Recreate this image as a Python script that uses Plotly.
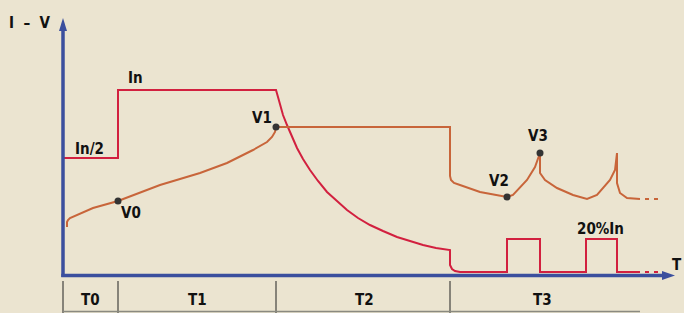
import plotly.graph_objects as go

# ---------------- data (time units along T, value units along I-V) ----------------
phase_names = ["T0", "T1", "T2", "T3"]
phase_bounds = [0, 55, 213, 387]
phase_end = 577
phase_label_t = [27.5, 134, 301, 479.5]

current_t = [0, 55, 55, 213, 215, 217, 220, 224, 229, 234, 240, 247, 255, 264, 274, 284,
             295, 307, 320, 334, 347, 360, 373, 387,
             387, 389, 392, 397, 444, 444, 477, 477, 523, 523, 554, 554, 577]
current_v = [117, 117, 185, 185, 178, 170, 160, 150, 138, 127, 116, 105, 94, 83, 74, 65,
             57, 50, 44, 38, 34, 30, 27, 25,
             10, 6, 4, 3, 3, 36, 36, 3, 3, 36, 36, 3, 3]

voltage_t = [4, 4, 5, 7, 30, 55, 97, 137, 164, 190, 204, 209, 212, 213,
             387, 387, 388, 391, 397, 417, 444, 450, 464, 472, 477,
             477, 482, 494, 510, 524, 534, 540, 547, 552, 554,
             554, 557, 564, 577]
voltage_v = [48, 53, 55, 57, 67, 74, 90, 102, 112, 125, 133, 138, 143, 148,
             148, 99, 95, 92, 90, 83, 78, 80, 95, 108, 122,
             102, 95, 87, 80, 76, 80, 87, 95, 105, 122,
             92, 82, 77, 76]

tail_t = [582, 596]          # dotted continuation ". ."
current_tail_v = [3, 3]
voltage_tail_v = [76, 76]

point_names = ["V0", "V1", "V2", "V3"]
point_t = [55, 213, 444, 477]
point_v = [74, 148, 78, 122]

label_texts = ["In/2", "In", "V0", "V1", "V2", "V3", "20%In"]
label_t = [26, 72, 67.5, 199, 435.5, 475, 537]
label_v = [126.5, 197, 62.5, 157, 94, 139.5, 46]

# ---------------- styling ----------------
BG = "#ebe4d0"
RED = "#d2203f"
ORANGE = "#c8653a"
BLUE = "#3b4f9e"
FONT = "DejaVu Sans Condensed, Liberation Sans Narrow, Arial Narrow, sans-serif"
FS = 15
TXT = dict(family=FONT, size=FS, color="#111111", weight="bold")

x_tip, y_tip = 612, 257

fig = go.Figure()

fig.add_trace(go.Scatter(x=current_t, y=current_v, mode="lines",
                         line=dict(color=RED, width=2), hoverinfo="skip"))
fig.add_trace(go.Scatter(x=voltage_t, y=voltage_v, mode="lines",
                         line=dict(color=ORANGE, width=2), hoverinfo="skip"))
fig.add_trace(go.Scatter(x=tail_t, y=current_tail_v, mode="lines",
                         line=dict(color=RED, width=2, dash="4px,5px"), hoverinfo="skip"))
fig.add_trace(go.Scatter(x=tail_t, y=voltage_tail_v, mode="lines",
                         line=dict(color=ORANGE, width=2, dash="4px,5px"), hoverinfo="skip"))
fig.add_trace(go.Scatter(x=point_t, y=point_v, mode="markers",
                         marker=dict(color="#333333", size=7), hoverinfo="skip"))

shapes = []
# axes
shapes.append(dict(type="line", x0=0, x1=0, y0=-2, y1=y_tip - 12,
                   line=dict(color=BLUE, width=3.5)))
shapes.append(dict(type="line", x0=-1.7, x1=x_tip - 11, y0=-0.5, y1=-0.5,
                   line=dict(color=BLUE, width=3.5)))
shapes.append(dict(type="path",
                   path=f"M -4,{y_tip-13} L 4,{y_tip-13} L 0,{y_tip} Z",
                   fillcolor=BLUE, line=dict(width=0)))
shapes.append(dict(type="path",
                   path=f"M {x_tip-13},-5 L {x_tip-13},4 L {x_tip},-0.5 Z",
                   fillcolor=BLUE, line=dict(width=0)))
# phase separators
for b in phase_bounds:
    shapes.append(dict(type="line", x0=b, x1=b, y0=-6, y1=-40,
                       line=dict(color="#222222", width=1)))
shapes.append(dict(type="line", x0=0, x1=phase_end, y0=-36.5, y1=-36.5,
                   line=dict(color="#8a8a80", width=1.5)))

annotations = []
for txt, t, v in zip(label_texts, label_t, label_v):
    annotations.append(dict(x=t, y=v, text=txt, showarrow=False, font=TXT))
for txt, t in zip(phase_names, phase_label_t):
    annotations.append(dict(x=t, y=-25, text=txt, showarrow=False, font=TXT))
annotations.append(dict(x=-33, y=252.5, text="I\u00a0\u00a0–\u00a0\u00a0V", showarrow=False, font=TXT))
annotations.append(dict(x=621, y=10.5, text="T", showarrow=False, xanchor="right", font=TXT))

fig.update_layout(
    width=684, height=313,
    margin=dict(l=0, r=0, t=0, b=0),
    paper_bgcolor=BG, plot_bgcolor=BG,
    showlegend=False,
    xaxis=dict(range=[-63, 621], visible=False, fixedrange=True),
    yaxis=dict(range=[-38, 275], visible=False, fixedrange=True),
    shapes=shapes, annotations=annotations,
)

fig.write_html("out.html", config={"displayModeBar": False},
               post_script="document.body.style.margin='0';document.body.style.padding='0';"
                           "document.body.style.overflow='hidden';"
                           "document.body.style.background='" + BG + "';")
